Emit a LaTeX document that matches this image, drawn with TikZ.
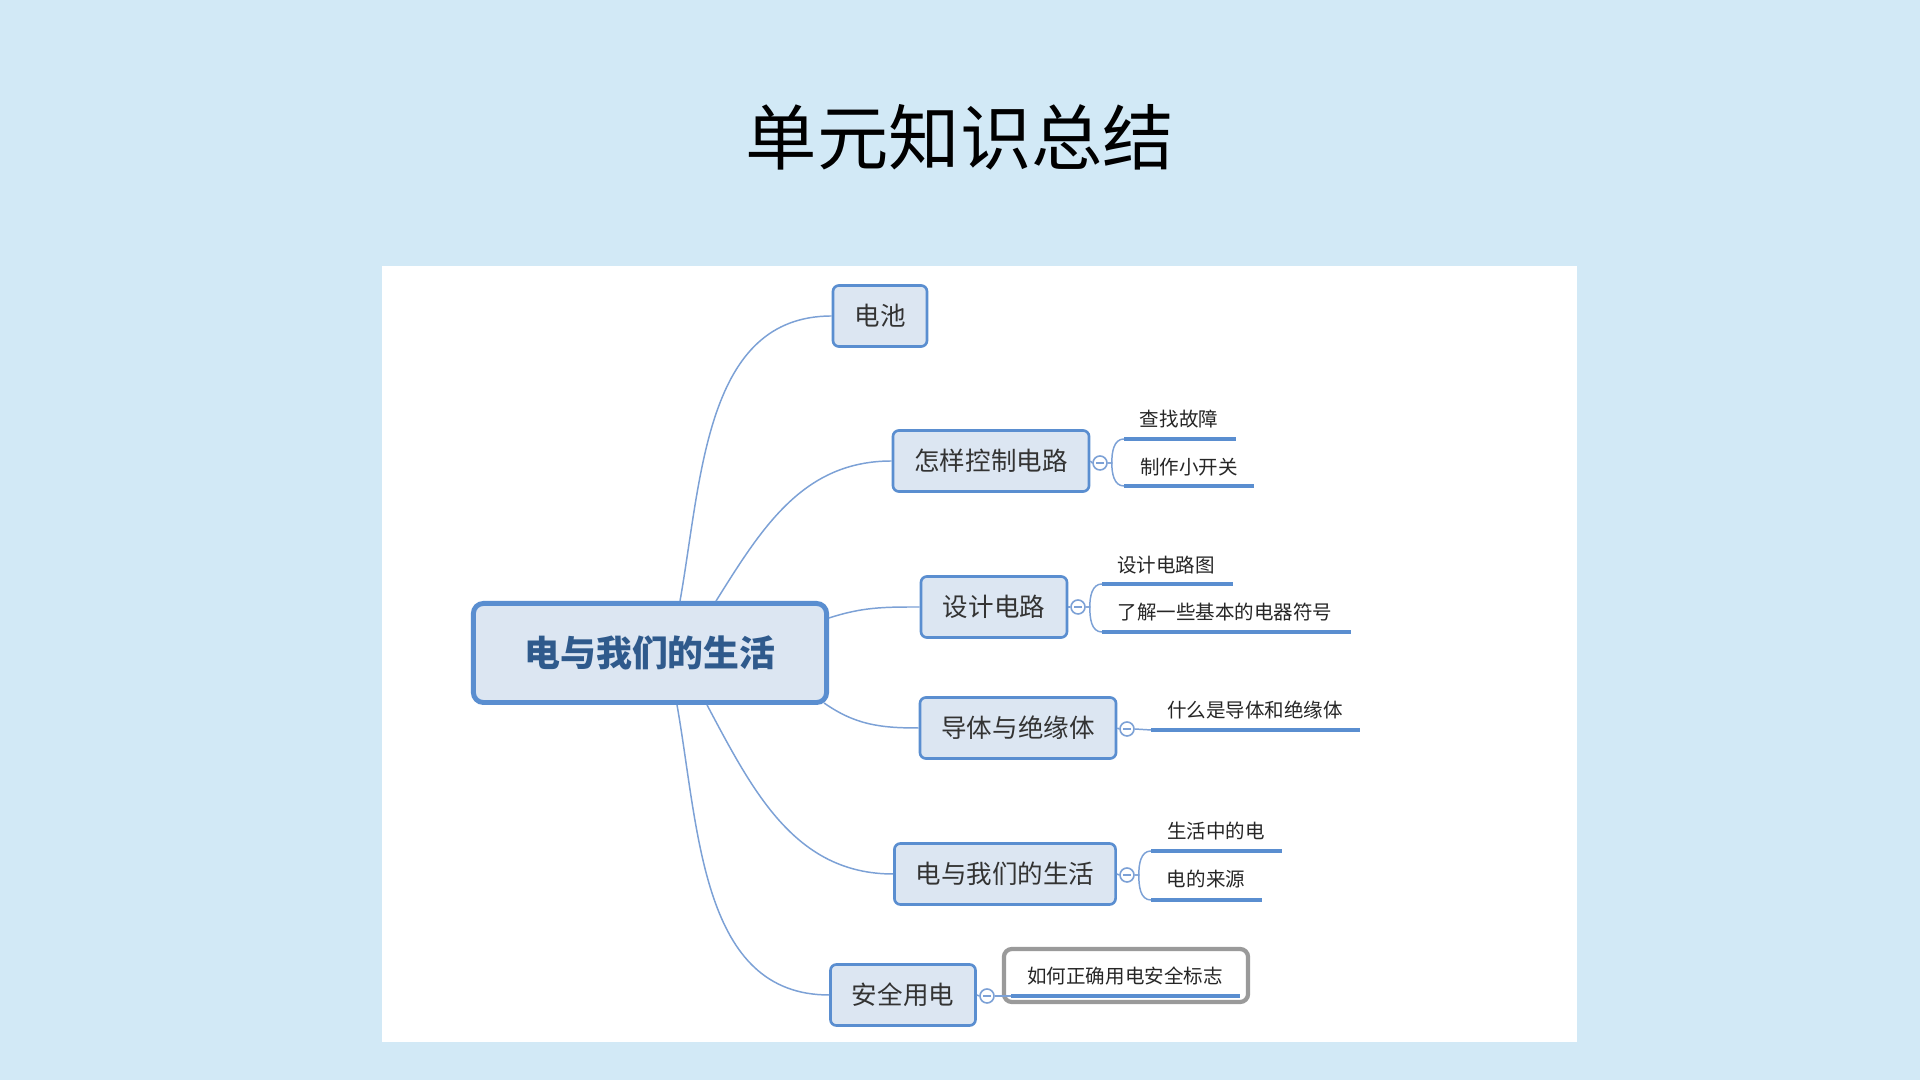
\documentclass[tikz,border=0pt]{standalone}
\usepackage{fontspec}
\setmainfont{Noto Sans CJK SC}
\usetikzlibrary{calc}
\definecolor{bgblue}{HTML}{D2E9F6}
\definecolor{boxfill}{HTML}{DCE6F2}
\definecolor{boxline}{HTML}{5A8ED0}
\definecolor{connline}{HTML}{7CA1D6}
\definecolor{maintext}{HTML}{2F5A8C}
\definecolor{topictext}{HTML}{333333}
\definecolor{selgray}{HTML}{9A9A9A}
\begin{document}
\begin{tikzpicture}[x=0.01cm,y=-0.01cm,
  titlestyle/.style={font=\fontsize{20.3pt}{24pt}\selectfont, text=black, inner sep=0},
  centralbox/.style={draw=boxline, fill=boxfill, line width=1.4pt, rounded corners=0.1cm,
    minimum width=3.53cm, minimum height=0.99cm, inner sep=0,
    font=\fontsize{10.2pt}{12pt}\selectfont\bfseries, text=maintext},
  topicbox/.style={draw=boxline, fill=boxfill, line width=0.75pt, rounded corners=0.06cm,
    minimum height=0.61cm, inner sep=0, font=\fontsize{7.26pt}{9pt}\selectfont, text=topictext},
  subtext/.style={inner sep=0, font=\fontsize{5.55pt}{7pt}\selectfont, text=black!85},
  subline/.style={draw=boxline, line width=1.1pt},
  conn/.style={draw=connline, line width=0.42pt},
  collapse/.style={circle, draw=connline, fill=white, line width=0.45pt, minimum size=0.14cm, inner sep=0,
    path picture={\draw[connline, line width=0.45pt] ([xshift=-0.04cm]path picture bounding box.center) -- ([xshift=0.04cm]path picture bounding box.center);}},
  selbox/.style={draw=selgray, line width=1.2pt, rounded corners=0.08cm, fill=white, inner sep=0}
]
% background and panel
\fill[bgblue] (0,0) rectangle (1920,1080);
\fill[white] (382,266) rectangle (1577,1042);

% title
\node[titlestyle] (title) at (960,137) {单元知识总结};

% central node
\node[centralbox] (c) at (650,653) {电与我们的生活};

% main topics
\node[topicbox, minimum width=0.94cm] (b1) at (880,316) {电池};
\node[topicbox, minimum width=1.96cm] (b2) at (991,461) {怎样控制电路};
\node[topicbox, minimum width=1.46cm] (b3) at (994,607) {设计电路};
\node[topicbox, minimum width=1.96cm] (b4) at (1018,728) {导体与绝缘体};
\node[topicbox, minimum width=2.21cm] (b5) at (1005,874) {电与我们的生活};
\node[topicbox, minimum width=1.45cm] (b6) at (903,995) {安全用电};

% main connectors
\draw[conn] ([xshift=0.30cm]c.north) to[out=80,in=180] (b1.west);
\draw[conn] ([xshift=0.66cm]c.north) to[out=58,in=180] (b2.west);
\draw[conn] ([yshift=0.35cm]c.east) to[out=18,in=180] (b3.west);
\draw[conn] ([xshift=-0.05cm,yshift=0.02cm]c.south east) to[out=-35,in=180] (b4.west);
\draw[conn] ([xshift=0.57cm]c.south) to[out=-62,in=180] (b5.west);
\draw[conn] ([xshift=0.27cm]c.south) to[out=-80,in=180] (b6.west);

% selected subtopic frame (behind)
\node[selbox, minimum width=2.44cm, minimum height=0.53cm] (sel) at (1126,975.5) {};

% collapse markers
\node[collapse] (k1) at (1100,463) {};
\node[collapse] (k2) at (1078,607) {};
\node[collapse] (k3) at (1127,729) {};
\node[collapse] (k4) at (1127,875) {};
\node[collapse] (k5) at (987,996) {};
\draw[conn] (b2.east) -- (k1.west);
\draw[conn] (b3.east) -- (k2.west);
\draw[conn] (b4.east) -- (k3.west);
\draw[conn] (b5.east) -- (k4.west);
\draw[conn] (b6.east) -- (k5.west);

% subtopic underline ends
\coordinate (u1a) at (1124,439); \coordinate (u1b) at (1236,439);
\coordinate (u2a) at (1124,486); \coordinate (u2b) at (1254,486);
\coordinate (u3a) at (1102,584); \coordinate (u3b) at (1233,584);
\coordinate (u4a) at (1102,632); \coordinate (u4b) at (1351,632);
\coordinate (u5a) at (1151,730); \coordinate (u5b) at (1360,730);
\coordinate (u6a) at (1151,851); \coordinate (u6b) at (1282,851);
\coordinate (u7a) at (1151,900); \coordinate (u7b) at (1262,900);
\coordinate (u8a) at (1011,996); \coordinate (u8b) at (1240,996);

% subtopic texts
\node[subtext] (s1) at (1179,419) {查找故障};
\node[subtext] (s2) at (1189,467) {制作小开关};
\node[subtext] (s3) at (1166,565) {设计电路图};
\node[subtext] (s4) at (1225,612) {了解一些基本的电器符号};
\node[subtext] (s5) at (1255,710) {什么是导体和绝缘体};
\node[subtext] (s6) at (1216,831) {生活中的电};
\node[subtext] (s7) at (1206,879) {电的来源};
\node[subtext] (s8) at (1125,976) {如何正确用电安全标志};

% sub connectors
\draw[conn] (k1.east) -- ++(4,0) to[out=90,in=180] (u1a);
\draw[conn] (k1.east) -- ++(4,0) to[out=-90,in=180] (u2a);
\draw[conn] (k2.east) -- ++(4,0) to[out=90,in=180] (u3a);
\draw[conn] (k2.east) -- ++(4,0) to[out=-90,in=180] (u4a);
\draw[conn] (k3.east) -- (u5a);
\draw[conn] (k4.east) -- ++(4,0) to[out=90,in=180] (u6a);
\draw[conn] (k4.east) -- ++(4,0) to[out=-90,in=180] (u7a);
\draw[conn] (k5.east) -- (u8a);

% underlines
\draw[subline] (u1a) -- (u1b);
\draw[subline] (u2a) -- (u2b);
\draw[subline] (u3a) -- (u3b);
\draw[subline] (u4a) -- (u4b);
\draw[subline] (u5a) -- (u5b);
\draw[subline] (u6a) -- (u6b);
\draw[subline] (u7a) -- (u7b);
\draw[subline] (u8a) -- (u8b);
\end{tikzpicture}
\end{document}
